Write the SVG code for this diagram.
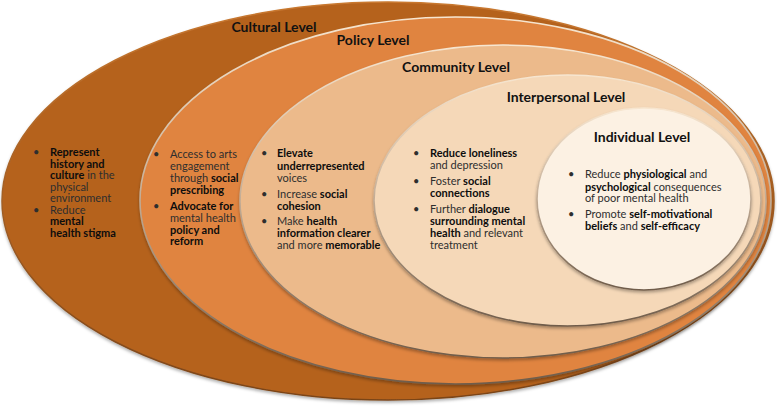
<svg xmlns="http://www.w3.org/2000/svg" width="777" height="406" viewBox="0 0 777 406">
<defs>
<linearGradient id="rim" x1="0" y1="0" x2="0" y2="1">
<stop offset="0" stop-color="#f7e6d0"/>
<stop offset="0.45" stop-color="#c9b39c"/>
<stop offset="1" stop-color="#6f5c4a"/>
</linearGradient>
<linearGradient id="rimOut" x1="0" y1="0" x2="0" y2="1">
<stop offset="0" stop-color="#c9782f"/>
<stop offset="1" stop-color="#7a4418"/>
</linearGradient>
<filter id="sh" x="-5%" y="-5%" width="110%" height="115%">
<feDropShadow dx="0" dy="2" stdDeviation="1.5" flood-color="#000" flood-opacity="0.3"/>
</filter>
<style>
.t{font-family:Lato,"Noto Sans","DejaVu Sans",sans-serif;font-size:11px;fill:#2e2e2e}
.b{font-weight:bold;fill:#0d0d0d}
.h{font-family:Lato,"Noto Sans","DejaVu Sans",sans-serif;font-size:14px;font-weight:bold;fill:#111;text-anchor:middle}
.e{stroke:url(#rim);stroke-width:1.6}
</style>
</defs>

<g id="cultural">
<ellipse cx="388" cy="201" rx="386" ry="199" fill="#b5621f" stroke="url(#rimOut)" stroke-width="1.5" filter="url(#sh)"/>
<text class="h" x="274" y="32">Cultural Level</text>
<g class="t">
<text x="33" y="156">•</text>
<text x="50" y="156" class="b">Represent</text>
<text x="50" y="167.5" class="b">history and</text>
<text x="50" y="179"><tspan class="b">culture</tspan> in the</text>
<text x="50" y="190.5">physical</text>
<text x="50" y="202">environment</text>
<text x="33" y="213.5">•</text>
<text x="50" y="213.5">Reduce</text>
<text x="50" y="225" class="b">mental</text>
<text x="50" y="236.5" class="b">health stigma</text>
</g>
</g>

<g id="policy">
<ellipse cx="455.5" cy="200.5" rx="315.5" ry="183.5" fill="#e0843f" class="e" filter="url(#sh)"/>
<text class="h" x="373" y="45">Policy Level</text>
<g class="t">
<text x="153" y="158">•</text>
<text x="170" y="158">Access to arts</text>
<text x="170" y="170">engagement</text>
<text x="170" y="182">through <tspan class="b">social</tspan></text>
<text x="170" y="193.5" class="b">prescribing</text>
<text x="153" y="210">•</text>
<text x="170" y="210" class="b">Advocate for</text>
<text x="170" y="222">mental health</text>
<text x="170" y="233.5" class="b">policy and</text>
<text x="170" y="245" class="b">reform</text>
</g>
</g>

<g id="community">
<ellipse cx="503" cy="201.5" rx="263" ry="156.5" fill="#ecba8b" class="e" filter="url(#sh)"/>
<text class="h" x="456" y="72">Community Level</text>
<g class="t">
<text x="261" y="157">•</text>
<text x="277" y="157" class="b">Elevate</text>
<text x="277" y="170" class="b">underrepresented</text>
<text x="277" y="182">voices</text>
<text x="261" y="198">•</text>
<text x="277" y="198">Increase <tspan class="b">social</tspan></text>
<text x="277" y="209.5" class="b">cohesion</text>
<text x="261" y="225">•</text>
<text x="277" y="225">Make <tspan class="b">health</tspan></text>
<text x="277" y="237" class="b">information clearer</text>
<text x="277" y="249">and more <tspan class="b">memorable</tspan></text>
</g>
</g>

<g id="interpersonal">
<ellipse cx="567.5" cy="200.5" rx="193.5" ry="125.5" fill="#f5d8b8" class="e" filter="url(#sh)"/>
<text class="h" x="566" y="102">Interpersonal Level</text>
<g class="t">
<text x="413" y="157">•</text>
<text x="430" y="157" class="b">Reduce loneliness</text>
<text x="430" y="169">and depression</text>
<text x="413" y="185">•</text>
<text x="430" y="185">Foster <tspan class="b">social</tspan></text>
<text x="430" y="197" class="b">connections</text>
<text x="413" y="213">•</text>
<text x="430" y="213">Further <tspan class="b">dialogue</tspan></text>
<text x="430" y="225" class="b">surrounding mental</text>
<text x="430" y="237"><tspan class="b">health</tspan> and relevant</text>
<text x="430" y="248.5">treatment</text>
</g>
</g>

<g id="individual">
<ellipse cx="644" cy="199" rx="107" ry="91" fill="#fcf1e3" class="e" filter="url(#sh)"/>
<text class="h" x="642" y="142">Individual Level</text>
<g class="t">
<text x="568" y="178">•</text>
<text x="585" y="178">Reduce <tspan class="b">physiological</tspan> and</text>
<text x="585" y="190.5"><tspan class="b">psychological</tspan> consequences</text>
<text x="585" y="202">of poor mental health</text>
<text x="568" y="218">•</text>
<text x="585" y="218">Promote <tspan class="b">self-motivational</tspan></text>
<text x="585" y="230"><tspan class="b">beliefs</tspan> and <tspan class="b">self-efficacy</tspan></text>
</g>
</g>

<g id="connectors"/>
</svg>
